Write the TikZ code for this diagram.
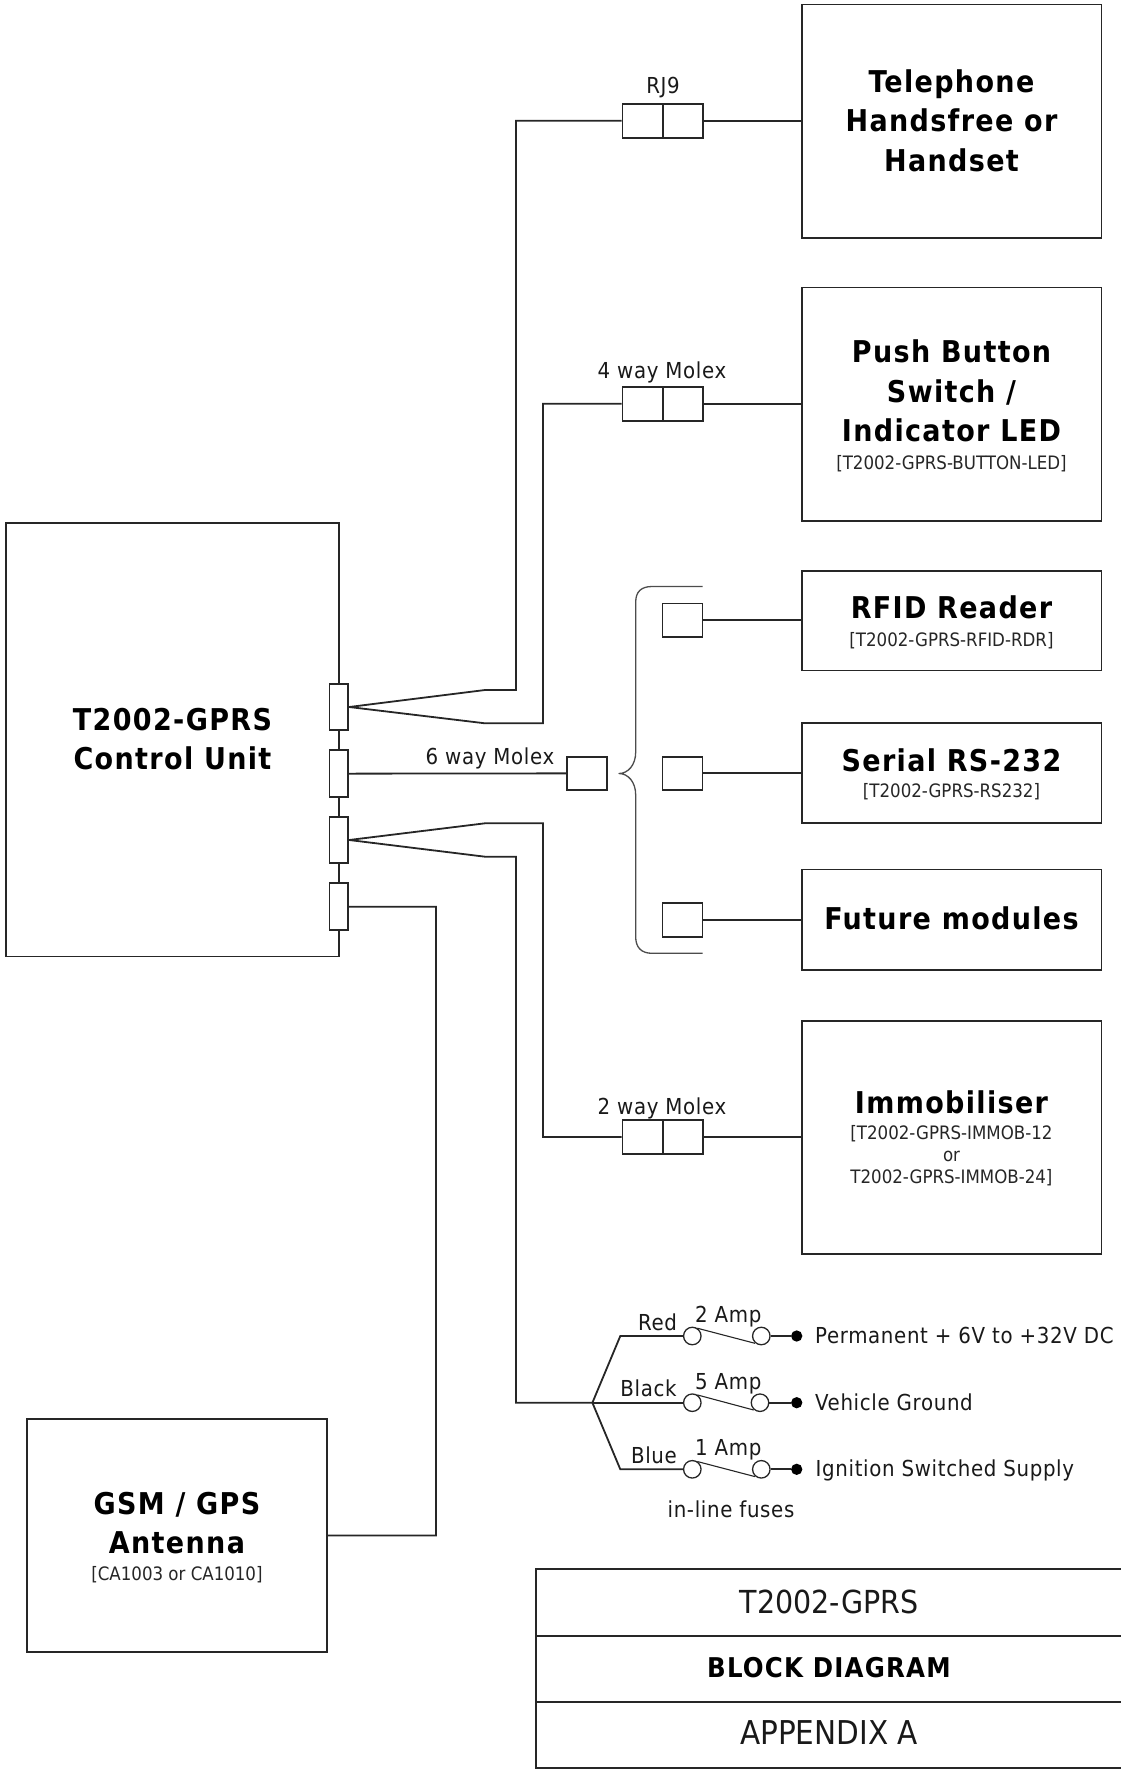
\documentclass[tikz,border=0pt]{standalone}
\usepackage{fontspec}
\setmainfont{DejaVu Sans Condensed}[BoldFont={DejaVu Sans Condensed Bold}]
\newfontfamily\titlefont{DejaVu Sans Condensed}[BoldFont={DejaVu Sans Condensed Bold},LetterSpace=4.5]
\newfontfamily\labelfont{DejaVu Sans Condensed}[LetterSpace=3]
\usetikzlibrary{calc}
\tikzset{
  wire/.style={draw=black!85,line width=1.8pt},
  blockbox/.style={draw=black!85,line width=1.8pt,fill=white,inner sep=0pt,rectangle},
  bigtext/.style={font=\titlefont\bfseries\fontsize{30}{39.5}\selectfont,align=center,inner sep=0pt,text=black},
  smalltext/.style={font=\fontsize{18.5}{22}\selectfont,align=center,inner sep=0pt,text=black!85},
  labeltext/.style={font=\labelfont\fontsize{22}{26}\selectfont,inner sep=0pt,text=black!90},
  fusecircle/.style={circle,draw=black!85,line width=1.3pt,fill=white,minimum size=17.5pt,inner sep=0pt},
  fuselink/.style={draw=black!85,line width=1.1pt},
  enddot/.style={circle,fill=black,minimum size=11.3pt,inner sep=0pt},
  brace/.style={draw=black!70,line width=1.3pt,line join=round},
}
\newcommand{\boxat}[6][]{% name x1 y1 x2 y2
  \node[blockbox,minimum width=#5pt-#3pt,minimum height=#6pt-#4pt,#1] (#2) at ({(#3+#5)/2},{(#4+#6)/2}) {};}
\begin{document}
\begin{tikzpicture}[x=1pt,y=-1pt]
\useasboundingbox (0,0) rectangle (1121,1769);
% blocks
\boxat{phone}{802}{4.5}{1101.5}{238}
\boxat{push}{802}{287.5}{1101.5}{520.7}
\boxat{rfid}{802}{570.6}{1101.5}{670.5}
\boxat{serial}{802}{723}{1101.5}{823}
\boxat{future}{802}{869.5}{1101.5}{970}
\boxat{immob}{802}{1021}{1101.5}{1254}
\boxat{ctrl}{6}{523}{339}{956.5}
\boxat{ant}{27}{1419}{327}{1652}
\boxat{titleA}{536}{1569.3}{1122}{1636}
\boxat{titleB}{536}{1636}{1122}{1702.3}
\boxat{titleC}{536}{1702.3}{1122}{1768.2}
% control unit connectors
\boxat{ca}{329.5}{683.7}{348.3}{730.3}
\boxat{cb}{329.5}{750.3}{348.3}{797}
\boxat{cc}{329.5}{816.7}{348.3}{863.3}
\boxat{cd}{329.5}{883.3}{348.3}{930}
% in-line connector pairs
\boxat{rjl}{622.5}{104}{662.6}{137.6}
\boxat{rjr}{662.6}{104}{702.6}{137.6}
\boxat{fwl}{622.5}{387}{662.6}{420.6}
\boxat{fwr}{662.6}{387}{702.6}{420.6}
\boxat{twl}{622.5}{1120}{662.6}{1154}
\boxat{twr}{662.6}{1120}{702.6}{1154}
% six way
\boxat{six}{566.7}{756.7}{606.7}{790}
\boxat{mr}{662.5}{603.5}{702.5}{637}
\boxat{ms}{662.5}{756.7}{702.5}{790}
\boxat{mf}{662.5}{903.3}{702.5}{936.7}
% wiring
\coordinate (w1a) at (485,690); \coordinate (w1b) at (516,690);
\coordinate (w2a) at (485,723.3); \coordinate (w2b) at (543,723.3);
\coordinate (w3a) at (485,823.3); \coordinate (w3b) at (543,823.3);
\coordinate (w4a) at (485,856.7); \coordinate (w4b) at (516,856.7);
\coordinate (w5) at (436,906.7);
\coordinate (hub) at (592.4,1402.7);
\coordinate (caout) at (ca.east); \coordinate (ccout) at (cc.east);
\draw[wire] (caout) -- (w1a) -- (w1b) |- (rjl.west);
\draw[wire] (caout) -- (w2a) -- (w2b) |- (fwl.west);
\draw[wire] (ccout) -- (w3a) -- (w3b) |- (twl.west);
\draw[wire] (ccout) -- (w4a) -- (w4b) |- (hub);
\draw[wire] (cb.east) -- (six.west);
\draw[wire] (cd.east) -- (w5) |- (ant.east);
\draw[wire] (rjr.east) -- (phone.west |- rjr.east);
\draw[wire] (fwr.east) -- (push.west |- fwr.east);
\draw[wire] (twr.east) -- (immob.west |- twr.east);
\draw[wire] (mr.east) -- (rfid.west |- mr.east);
\draw[wire] (ms.east) -- (serial.west |- ms.east);
\draw[wire] (mf.east) -- (future.west |- mf.east);
% brace
\coordinate (bt) at (702.5,586.5); \coordinate (bb) at (702.5,953.3); \coordinate (btip) at (619,773.5);
\draw[brace] (bt) -- (652,586.5) .. controls (641,586.5) and (635.7,592) .. (635.7,602) -- (635.7,752)
  .. controls (635.7,765) and (628,773.5) .. (btip) .. controls (628,773.5) and (635.7,782) .. (635.7,795)
  -- (635.7,937) .. controls (635.7,947) and (641,953.3) .. (652,953.3) -- (bb);
% fuses
\foreach \n/\yy/\xr in {a/1336/761.3,b/1402.7/760,c/1469.3/761.3}{
  \node[fusecircle] (fl\n) at (692.3,\yy) {};
  \node[fusecircle] (fr\n) at (\xr,\yy) {};
  \node[enddot] (dot\n) at (796.7,\yy) {};
  \coordinate (ln\n) at (697.3,\yy-7.8);
  \coordinate (rn\n) at (\xr-6.3,\yy+7.3);
  \draw[fuselink] (ln\n) -- (rn\n);
  \draw[wire] (fr\n) -- (dot\n);
}
\coordinate (ka) at (620.3,1336); \coordinate (kc) at (620.3,1469.3);
\draw[wire] (hub) -- (ka) -- (fla);
\draw[wire] (hub) -- (flb);
\draw[wire] (hub) -- (kc) -- (flc);
% block text
\node[bigtext] (tphone) at (951.5,120.5) {Telephone\\Handsfree or\\Handset};
\node[bigtext] (tpush) at (951.5,391) {Push Button\\Switch /\\Indicator LED};
\node[smalltext] (spush) at (951.5,464) {[T2002-GPRS-BUTTON-LED]};
\node[bigtext] (trfid) at (951.5,607) {RFID Reader};
\node[smalltext] (srfid) at (951.5,640.5) {[T2002-GPRS-RFID-RDR]};
\node[bigtext] (tserial) at (951.5,760) {Serial RS-232};
\node[smalltext] (sserial) at (951.5,792) {[T2002-GPRS-RS232]};
\node[bigtext] (tfuture) at (951.5,918.5) {Future modules};
\node[bigtext] (timmob) at (951.5,1102) {Immobiliser};
\node[smalltext] (simmob) at (951.5,1156) {[T2002-GPRS-IMMOB-12\\or\\T2002-GPRS-IMMOB-24]};
\node[bigtext] (tctrl) at (172.5,739) {T2002-GPRS\\Control Unit};
\node[bigtext] (tant) at (177,1523) {GSM / GPS\\Antenna};
\node[smalltext] (sant) at (177,1574.5) {[CA1003 or CA1010]};
% title block
\node[font=\fontsize{31.7}{36}\selectfont,inner sep=0pt,text=black!90] (ta) at (829,1602) {T2002-GPRS};
\node[font=\titlefont\bfseries\fontsize{27.2}{30}\selectfont,inner sep=0pt,text=black] (tb) at (829,1668) {BLOCK DIAGRAM};
\node[font=\fontsize{32.8}{36}\selectfont,inner sep=0pt,text=black!90] (tc) at (829,1733) {APPENDIX A};
% labels
\node[labeltext] (lrj) at (663,88) {RJ9};
\node[labeltext] (lfw) at (662,372) {4 way Molex};
\node[labeltext] (lsix) at (490,758) {6 way Molex};
\node[labeltext] (ltw) at (662,1108) {2 way Molex};
\node[labeltext] (lred) at (657.5,1322) {Red};
\node[labeltext] (lblack) at (648.5,1388) {Black};
\node[labeltext] (lblue) at (654,1455) {Blue};
\node[labeltext] (l2) at (728.3,1317) {2 Amp};
\node[labeltext] (l5) at (728.3,1384) {5 Amp};
\node[labeltext] (l1) at (728.3,1450) {1 Amp};
\node[labeltext,anchor=west] (lp) at (815,1335) {Permanent + 6V to +32V DC};
\node[labeltext,anchor=west] (lv) at (815,1402) {Vehicle Ground};
\node[labeltext,anchor=west] (li) at (815.5,1470) {Ignition Switched Supply};
\node[labeltext] (lf) at (731,1509) {in-line fuses};
\end{tikzpicture}
\end{document}
